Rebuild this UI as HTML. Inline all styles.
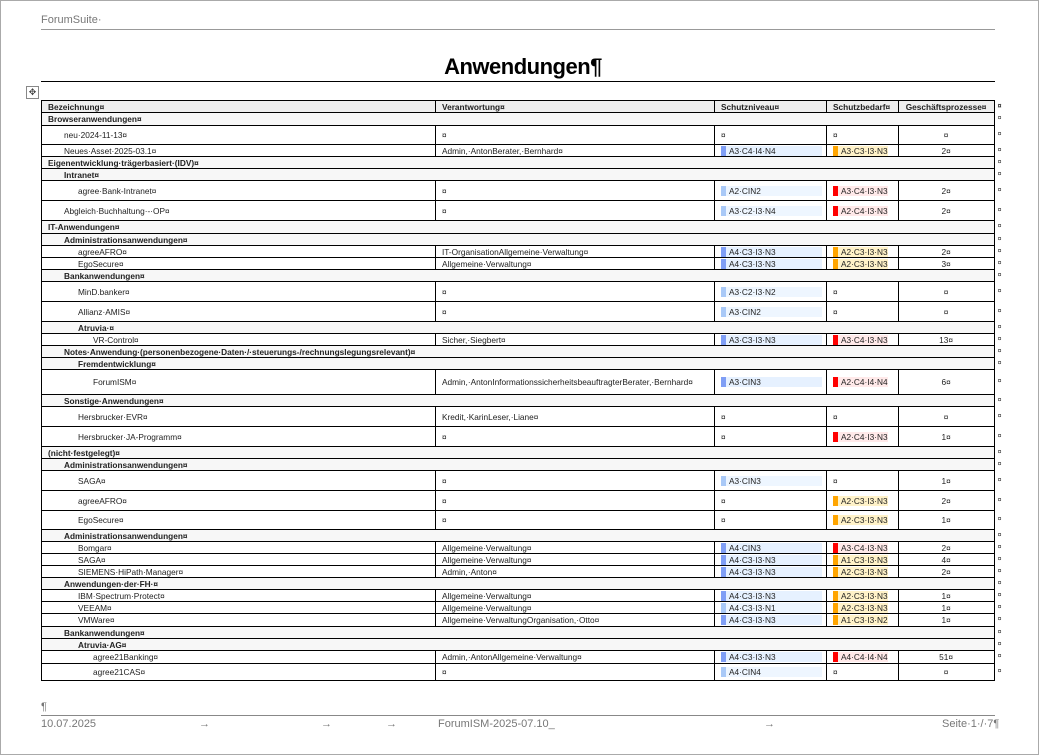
<!DOCTYPE html>
<html><head><meta charset="utf-8"><style>
html,body{margin:0;padding:0;background:#fff;}
body{width:1039px;height:755px;position:relative;overflow:hidden;font-family:"Liberation Sans",sans-serif;color:#222;}
.frame{position:absolute;left:0;top:0;width:1037px;height:753px;border:1px solid #aaa;}
.hdr{position:absolute;left:41px;top:14px;font-size:11px;color:#777;}
.hl{position:absolute;left:41px;top:29px;width:954px;height:1px;background:#999;}
.title{position:absolute;left:0;width:1046px;top:54px;text-align:center;font-size:22px;font-weight:bold;color:#000;letter-spacing:-0.5px;}
.tl{position:absolute;left:41px;top:81px;width:954px;height:1px;background:#000;}
.mv{position:absolute;left:26px;top:86px;width:11px;height:11px;border:1px solid #888;font-size:9px;line-height:11px;text-align:center;color:#444;}
table{position:absolute;left:41px;top:100px;border-collapse:collapse;table-layout:fixed;font-size:8.3px;}
td{border:1px solid #000;padding:0 0 0 6px;height:11px;line-height:10px;white-space:nowrap;overflow:hidden;vertical-align:middle;}
td.m{border:none;padding-left:3px;font-size:7px;color:#333;}
tr.h td{background:#eee;font-weight:bold;}
tr.h td.m{background:#fff;}
tr.g td{background:#f7f7f7;font-weight:bold;}
tr.g td.m{background:#fff;font-weight:normal;}
.c{text-align:center;padding:0;}
.b{display:block;margin-right:4px;padding-left:3px;border-left:5px solid;}
.b1{border-color:#7f9ef5;background:#e6f1ff;}
.b2{border-color:#a9c9f7;background:#eef6ff;}
.b3{border-color:#ffa500;background:#fff2c8;margin-right:10px;}
.b4{border-color:#f00;background:#ffe9e9;margin-right:10px;}
.ft{position:absolute;top:718px;font-size:11px;color:#777;}
.fl{position:absolute;left:41px;top:715px;width:954px;height:1px;background:#888;}
</style></head><body>
<div class="frame"></div>
<div class="hdr">ForumSuite·</div><div class="hl"></div>
<div class="title">Anwendungen¶</div><div class="tl"></div>
<div class="mv">✥</div>
<table>
<colgroup><col style="width:394px"><col style="width:279px"><col style="width:112px"><col style="width:71px"><col style="width:96px"><col style="width:20px"></colgroup>
<tr class="h"><td>Bezeichnung¤</td><td>Verantwortung¤</td><td>Schutzniveau¤</td><td>Schutzbedarf¤</td><td class="c">Geschäftsprozesse¤</td><td class="m">¤</td></tr>
<tr class="g" style="height:13px"><td colspan="5">Browseranwendungen¤</td><td class="m">¤</td></tr>
<tr style="height:19px"><td style="padding-left:22px">neu·2024-11-13¤</td><td>¤</td><td>¤</td><td>¤</td><td class="c">¤</td><td class="m">¤</td></tr>
<tr style="height:12px"><td style="padding-left:22px">Neues·Asset·2025-03.1¤</td><td>Admin,·AntonBerater,·Bernhard¤</td><td><span class="b b1">A3·C4·I4·N4</span></td><td><span class="b b3">A3·C3·I3·N3</span></td><td class="c">2¤</td><td class="m">¤</td></tr>
<tr class="g" style="height:12px"><td colspan="5">Eigenentwicklung·trägerbasiert·(IDV)¤</td><td class="m">¤</td></tr>
<tr class="g" style="height:12px"><td colspan="5" style="padding-left:22px">Intranet¤</td><td class="m">¤</td></tr>
<tr style="height:20px"><td style="padding-left:36px">agree·Bank-Intranet¤</td><td>¤</td><td><span class="b b2">A2·CIN2</span></td><td><span class="b b4">A3·C4·I3·N3</span></td><td class="c">2¤</td><td class="m">¤</td></tr>
<tr style="height:20px"><td style="padding-left:22px">Abgleich·Buchhaltung·-·OP¤</td><td>¤</td><td><span class="b b2">A3·C2·I3·N4</span></td><td><span class="b b4">A2·C4·I3·N3</span></td><td class="c">2¤</td><td class="m">¤</td></tr>
<tr class="g" style="height:13px"><td colspan="5">IT-Anwendungen¤</td><td class="m">¤</td></tr>
<tr class="g" style="height:12px"><td colspan="5" style="padding-left:22px">Administrationsanwendungen¤</td><td class="m">¤</td></tr>
<tr style="height:12px"><td style="padding-left:36px">agreeAFRO¤</td><td>IT-OrganisationAllgemeine·Verwaltung¤</td><td><span class="b b1">A4·C3·I3·N3</span></td><td><span class="b b3">A2·C3·I3·N3</span></td><td class="c">2¤</td><td class="m">¤</td></tr>
<tr style="height:12px"><td style="padding-left:36px">EgoSecure¤</td><td>Allgemeine·Verwaltung¤</td><td><span class="b b1">A4·C3·I3·N3</span></td><td><span class="b b3">A2·C3·I3·N3</span></td><td class="c">3¤</td><td class="m">¤</td></tr>
<tr class="g" style="height:12px"><td colspan="5" style="padding-left:22px">Bankanwendungen¤</td><td class="m">¤</td></tr>
<tr style="height:20px"><td style="padding-left:36px">MinD.banker¤</td><td>¤</td><td><span class="b b2">A3·C2·I3·N2</span></td><td>¤</td><td class="c">¤</td><td class="m">¤</td></tr>
<tr style="height:20px"><td style="padding-left:36px">Allianz·AMIS¤</td><td>¤</td><td><span class="b b2">A3·CIN2</span></td><td>¤</td><td class="c">¤</td><td class="m">¤</td></tr>
<tr class="g" style="height:12px"><td colspan="5" style="padding-left:36px">Atruvia·¤</td><td class="m">¤</td></tr>
<tr style="height:12px"><td style="padding-left:51px">VR-Control¤</td><td>Sicher,·Siegbert¤</td><td><span class="b b1">A3·C3·I3·N3</span></td><td><span class="b b4">A3·C4·I3·N3</span></td><td class="c">13¤</td><td class="m">¤</td></tr>
<tr class="g" style="height:12px"><td colspan="5" style="padding-left:22px">Notes·Anwendung·(personenbezogene·Daten·/·steuerungs-/rechnungslegungsrelevant)¤</td><td class="m">¤</td></tr>
<tr class="g" style="height:12px"><td colspan="5" style="padding-left:36px">Fremdentwicklung¤</td><td class="m">¤</td></tr>
<tr style="height:25px"><td style="padding-left:51px">ForumISM¤</td><td style="white-space:normal">Admin,·AntonInformationssicherheitsbeauftragterBerater,·Bernhard¤</td><td><span class="b b1">A3·CIN3</span></td><td><span class="b b4">A2·C4·I4·N4</span></td><td class="c">6¤</td><td class="m">¤</td></tr>
<tr class="g" style="height:12px"><td colspan="5" style="padding-left:22px">Sonstige·Anwendungen¤</td><td class="m">¤</td></tr>
<tr style="height:20px"><td style="padding-left:36px">Hersbrucker·EVR¤</td><td>Kredit,·KarinLeser,·Liane¤</td><td>¤</td><td>¤</td><td class="c">¤</td><td class="m">¤</td></tr>
<tr style="height:20px"><td style="padding-left:36px">Hersbrucker·JA-Programm¤</td><td>¤</td><td>¤</td><td><span class="b b4">A2·C4·I3·N3</span></td><td class="c">1¤</td><td class="m">¤</td></tr>
<tr class="g" style="height:12px"><td colspan="5">(nicht·festgelegt)¤</td><td class="m">¤</td></tr>
<tr class="g" style="height:12px"><td colspan="5" style="padding-left:22px">Administrationsanwendungen¤</td><td class="m">¤</td></tr>
<tr style="height:20px"><td style="padding-left:36px">SAGA¤</td><td>¤</td><td><span class="b b2">A3·CIN3</span></td><td>¤</td><td class="c">1¤</td><td class="m">¤</td></tr>
<tr style="height:20px"><td style="padding-left:36px">agreeAFRO¤</td><td>¤</td><td>¤</td><td><span class="b b3">A2·C3·I3·N3</span></td><td class="c">2¤</td><td class="m">¤</td></tr>
<tr style="height:19px"><td style="padding-left:36px">EgoSecure¤</td><td>¤</td><td>¤</td><td><span class="b b3">A2·C3·I3·N3</span></td><td class="c">1¤</td><td class="m">¤</td></tr>
<tr class="g" style="height:12px"><td colspan="5" style="padding-left:22px">Administrationsanwendungen¤</td><td class="m">¤</td></tr>
<tr style="height:12px"><td style="padding-left:36px">Bomgar¤</td><td>Allgemeine·Verwaltung¤</td><td><span class="b b1">A4·CIN3</span></td><td><span class="b b4">A3·C4·I3·N3</span></td><td class="c">2¤</td><td class="m">¤</td></tr>
<tr style="height:12px"><td style="padding-left:36px">SAGA¤</td><td>Allgemeine·Verwaltung¤</td><td><span class="b b1">A4·C3·I3·N3</span></td><td><span class="b b3">A1·C3·I3·N3</span></td><td class="c">4¤</td><td class="m">¤</td></tr>
<tr style="height:12px"><td style="padding-left:36px">SIEMENS·HiPath·Manager¤</td><td>Admin,·Anton¤</td><td><span class="b b1">A4·C3·I3·N3</span></td><td><span class="b b3">A2·C3·I3·N3</span></td><td class="c">2¤</td><td class="m">¤</td></tr>
<tr class="g" style="height:12px"><td colspan="5" style="padding-left:22px">Anwendungen·der·FH·¤</td><td class="m">¤</td></tr>
<tr style="height:12px"><td style="padding-left:36px">IBM·Spectrum·Protect¤</td><td>Allgemeine·Verwaltung¤</td><td><span class="b b1">A4·C3·I3·N3</span></td><td><span class="b b3">A2·C3·I3·N3</span></td><td class="c">1¤</td><td class="m">¤</td></tr>
<tr style="height:12px"><td style="padding-left:36px">VEEAM¤</td><td>Allgemeine·Verwaltung¤</td><td><span class="b b2">A4·C3·I3·N1</span></td><td><span class="b b3">A2·C3·I3·N3</span></td><td class="c">1¤</td><td class="m">¤</td></tr>
<tr style="height:13px"><td style="padding-left:36px">VMWare¤</td><td>Allgemeine·VerwaltungOrganisation,·Otto¤</td><td><span class="b b1">A4·C3·I3·N3</span></td><td><span class="b b3">A1·C3·I3·N2</span></td><td class="c">1¤</td><td class="m">¤</td></tr>
<tr class="g" style="height:12px"><td colspan="5" style="padding-left:22px">Bankanwendungen¤</td><td class="m">¤</td></tr>
<tr class="g" style="height:12px"><td colspan="5" style="padding-left:36px">Atruvia·AG¤</td><td class="m">¤</td></tr>
<tr style="height:13px"><td style="padding-left:51px">agree21Banking¤</td><td>Admin,·AntonAllgemeine·Verwaltung¤</td><td><span class="b b1">A4·C3·I3·N3</span></td><td><span class="b b4">A4·C4·I4·N4</span></td><td class="c">51¤</td><td class="m">¤</td></tr>
<tr style="height:17px"><td style="padding-left:51px">agree21CAS¤</td><td>¤</td><td><span class="b b2">A4·CIN4</span></td><td>¤</td><td class="c">¤</td><td class="m">¤</td></tr>
</table>
<div class="ft" style="top:701px;left:41px;">¶</div>
<div class="fl"></div>
<div class="ft" style="left:41px;">10.07.2025</div>
<div class="ft" style="left:199px;">→</div>
<div class="ft" style="left:321px;">→</div>
<div class="ft" style="left:386px;">→</div>
<div class="ft" style="left:438px;">ForumISM-2025-07.10_</div>
<div class="ft" style="left:764px;">→</div>
<div class="ft" style="left:942px;">Seite·1·/·7¶</div>
</body></html>
